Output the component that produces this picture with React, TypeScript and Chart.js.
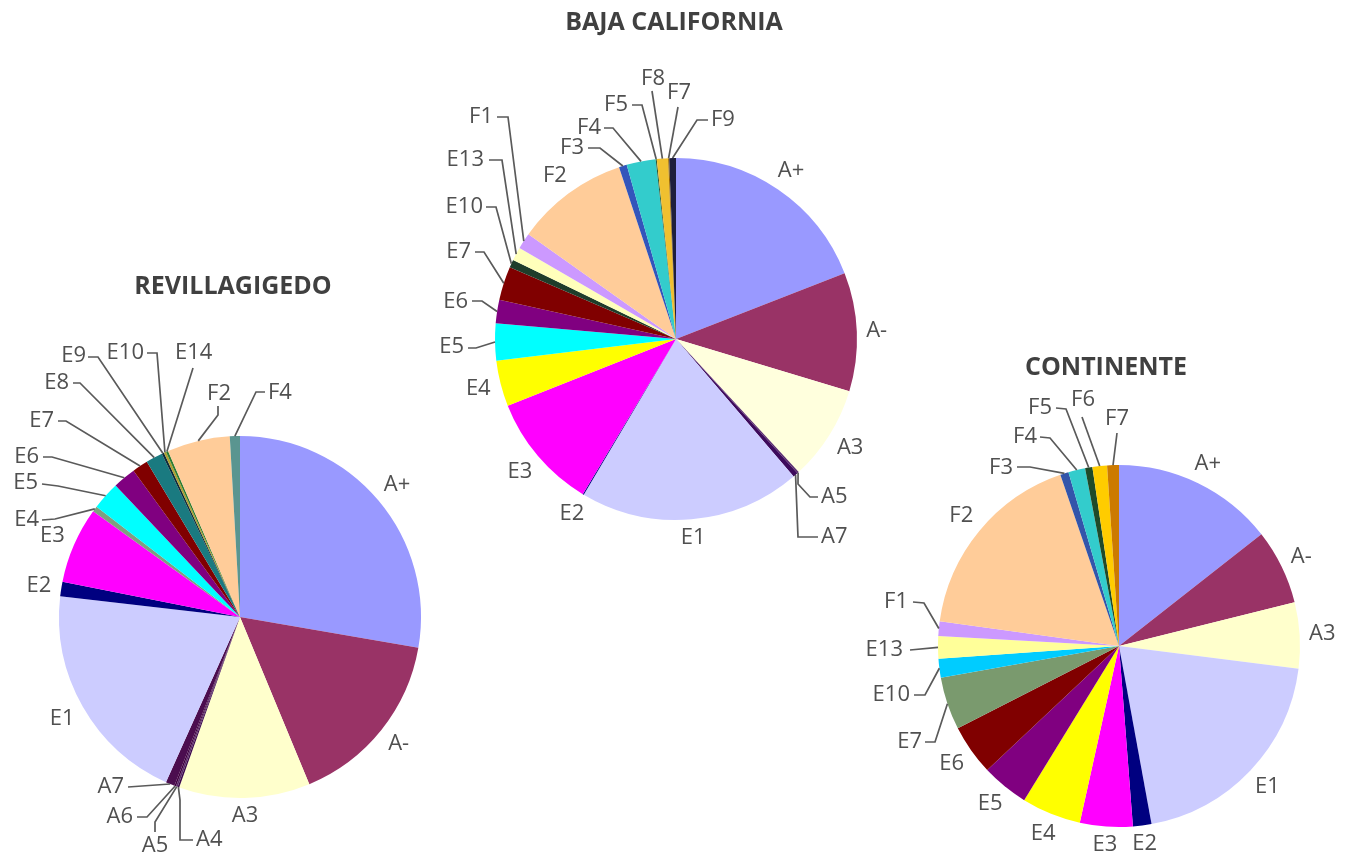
import React, { useEffect, useRef } from 'react';
import { Chart, registerables } from 'chart.js';

Chart.register(...registerables);

const W = 1351;
const H = 856;

// ---------- DATA ----------
const revCategories = ['A+', 'A-', 'A3', 'A4', 'A5', 'A6', 'A7', 'E1', 'E2', 'E3', 'E4', 'E5', 'E6', 'E7', 'E8', 'E9', 'E10', 'E14', 'F2', 'F4'];
const revValues = [27.7, 16.0, 11.7, 0.15, 0.15, 0.15, 0.8, 20.1, 1.3, 6.8, 0.5, 2.5, 2.05, 1.4, 1.5, 0.2, 0.2, 0.2, 5.6, 0.9];
const revColors = ['#9999FF', '#993366', '#FFFFCC', '#3D0A4A', '#5A2A6A', '#400040', '#4B0D4F', '#CCCCFF', '#000080', '#FF00FF', '#7F9F80', '#00FFFF', '#800080', '#800000', '#1A7A80', '#0D2A3A', '#B0A030', '#2E7D32', '#FFCC99', '#5A9590'];

const bajaCategories = ['A+', 'A-', 'A3', 'A5', 'A7', 'E1', 'E2', 'E3', 'E4', 'E5', 'E6', 'E7', 'E10', 'E13', 'F1', 'F2', 'F3', 'F4', 'F5', 'F8', 'F7', 'F9'];
const bajaValues = [19.1, 10.6, 8.5, 0.15, 0.45, 19.8, 0.1, 10.4, 4.1, 3.3, 2.1, 3.0, 0.7, 1.2, 1.45, 10.1, 0.7, 2.6, 0.1, 1.0, 0.1, 0.6];
const bajaColors = ['#9999FF', '#993366', '#FFFFDD', '#5A2D6E', '#3D0A5C', '#CCCCFF', '#000080', '#FF00FF', '#FFFF00', '#00FFFF', '#800080', '#800000', '#1F3D2A', '#FFFFBB', '#CC99FF', '#FFCC99', '#3355BB', '#33CCCC', '#2A5D3A', '#F0C030', '#996600', '#1E1E3C'];

const contCategories = ['A+', 'A-', 'A3', 'E1', 'E2', 'E3', 'E4', 'E5', 'E6', 'E7', 'E10', 'E13', 'F1', 'F2', 'F3', 'F4', 'F5', 'F6', 'F7'];
const contValues = [14.4, 6.7, 5.9, 20.1, 1.65, 4.7, 5.3, 4.2, 4.5, 4.7, 1.7, 2.0, 1.3, 17.55, 0.75, 1.5, 0.65, 1.3, 1.05];
const contColors = ['#9999FF', '#993366', '#FFFFCC', '#CCCCFF', '#000080', '#FF00FF', '#FFFF00', '#800080', '#800000', '#7A9A6E', '#00CCFF', '#FFFF99', '#CC99FF', '#FFCC99', '#3355AA', '#33CCCC', '#1F4A2A', '#FFCC00', '#CC7A00'];

const titles = ['REVILLAGIGEDO', 'BAJA CALIFORNIA', 'CONTINENTE'];

// ---------- LAYOUT / STYLE ----------
const RADIUS = 181;
const LABEL_FONT = "22px 'Open Sans', 'DejaVu Sans', sans-serif";
const LABEL_COLOR = '#505050';
const LINE_COLOR = '#5a5a5a';
const LABEL_GAP = 9;
const LABEL_H = 16;

type Leader = { x: number; y: number; align: CanvasTextAlign; pts: number[][] };

const revLeaders: Record<string, Leader> = {
  A4: { x: 196, y: 840, align: 'left', pts: [[193, 840], [180, 840], [180, 800]] },
  A5: { x: 155, y: 846, align: 'center', pts: [[155, 832], [155, 822]] },
  A6: { x: 133, y: 817, align: 'right', pts: [[137, 817], [147, 817]] },
  A7: { x: 124, y: 787, align: 'right', pts: [[128, 787]] },
  E4: { x: 39, y: 520, align: 'right', pts: [[42, 520], [55, 519]] },
  E5: { x: 38, y: 483, align: 'right', pts: [[42, 484], [58, 486]] },
  E6: { x: 39, y: 457, align: 'right', pts: [[43, 457], [52, 457]] },
  E7: { x: 54, y: 421, align: 'right', pts: [[58, 421], [66, 421]] },
  E8: { x: 69, y: 383, align: 'right', pts: [[73, 383], [80, 383]] },
  E9: { x: 86, y: 356, align: 'right', pts: [[88, 357], [98, 357]] },
  E10: { x: 144, y: 353, align: 'right', pts: [[147, 353], [157, 353]] },
  E14: { x: 175, y: 353, align: 'left', pts: [[193, 368]] },
  F2: { x: 219, y: 394, align: 'center', pts: [[218, 406], [218, 415]] },
  F4: { x: 268, y: 393, align: 'left', pts: [[265, 392], [256, 392]] },
};

const bajaLeaders: Record<string, Leader> = {
  A5: { x: 821, y: 497, align: 'left', pts: [[818, 497], [810, 497], [798, 484]] },
  A7: { x: 821, y: 537, align: 'left', pts: [[818, 537], [798, 537]] },
  E5: { x: 464, y: 347, align: 'right', pts: [[468, 348], [476, 348]] },
  E6: { x: 468, y: 302, align: 'right', pts: [[472, 301], [482, 301]] },
  E7: { x: 471, y: 252, align: 'right', pts: [[475, 252], [484, 252]] },
  E10: { x: 483, y: 207, align: 'right', pts: [[486, 207], [496, 207]] },
  E13: { x: 484, y: 160, align: 'right', pts: [[489, 160], [502, 160]] },
  F1: { x: 493, y: 117, align: 'right', pts: [[497, 117], [508, 117]] },
  F3: { x: 584, y: 148, align: 'right', pts: [[588, 148], [600, 148]] },
  F4: { x: 601, y: 128, align: 'right', pts: [[604, 128], [613, 128]] },
  F5: { x: 628, y: 105, align: 'right', pts: [[632, 105], [642, 105]] },
  F8: { x: 653, y: 79, align: 'center', pts: [[652, 91]] },
  F7: { x: 679, y: 93, align: 'center', pts: [[678, 107]] },
  F9: { x: 711, y: 120, align: 'left', pts: [[708, 120], [697, 120]] },
};

const contLeaders: Record<string, Leader> = {
  E7: { x: 922, y: 742, align: 'right', pts: [[925, 742], [935, 742]] },
  E10: { x: 910, y: 695, align: 'right', pts: [[914, 695], [925, 695]] },
  E13: { x: 903, y: 650, align: 'right', pts: [[910, 650]] },
  F1: { x: 908, y: 602, align: 'right', pts: [[913, 602], [924, 603]] },
  F3: { x: 1013, y: 468, align: 'right', pts: [[1017, 467], [1030, 467]] },
  F4: { x: 1037, y: 437, align: 'right', pts: [[1040, 437], [1050, 438]] },
  F5: { x: 1052, y: 408, align: 'right', pts: [[1056, 408], [1066, 409]] },
  F6: { x: 1083, y: 400, align: 'center', pts: [[1082, 417]] },
  F7: { x: 1117, y: 419, align: 'center', pts: [[1117, 433]] },
};

type PieSpec = {
  labels: string[];
  values: number[];
  colors: string[];
  cx: number;
  cy: number;
  leaders: Record<string, Leader>;
};

const pies: PieSpec[] = [
  { labels: revCategories, values: revValues, colors: revColors, cx: 240, cy: 617, leaders: revLeaders },
  { labels: bajaCategories, values: bajaValues, colors: bajaColors, cx: 676, cy: 339, leaders: bajaLeaders },
  { labels: contCategories, values: contValues, colors: contColors, cx: 1119, cy: 646, leaders: contLeaders },
];

const titlePos = [
  { x: 233, y: 272 },
  { x: 674, y: 8 },
  { x: 1106, y: 353 },
];

function makeLabelPlugin(leaders: Record<string, Leader>) {
  return {
    id: 'sliceLabels',
    afterDatasetsDraw(chart: any) {
      const ctx: CanvasRenderingContext2D = chart.ctx;
      const meta = chart.getDatasetMeta(0);
      const labels = chart.data.labels as string[];
      ctx.save();
      ctx.font = LABEL_FONT;
      ctx.fillStyle = LABEL_COLOR;
      ctx.textBaseline = 'middle';
      meta.data.forEach((arc: any, i: number) => {
        const p = arc.getProps(['x', 'y', 'startAngle', 'endAngle', 'outerRadius'], true);
        const mid = (p.startAngle + p.endAngle) / 2;
        const name = labels[i];
        const lead = leaders[name];
        if (lead) {
          const ex = p.x + Math.cos(mid) * p.outerRadius;
          const ey = p.y + Math.sin(mid) * p.outerRadius;
          ctx.beginPath();
          ctx.strokeStyle = LINE_COLOR;
          ctx.lineWidth = 1.7;
          lead.pts.forEach((q, k) => (k === 0 ? ctx.moveTo(q[0], q[1]) : ctx.lineTo(q[0], q[1])));
          ctx.lineTo(ex, ey);
          ctx.stroke();
          ctx.textAlign = lead.align;
          ctx.fillText(name, lead.x, lead.y);
        } else {
          const tw = ctx.measureText(name).width;
          const rr =
            p.outerRadius + LABEL_GAP + (Math.abs(Math.cos(mid)) * tw) / 2 + (Math.abs(Math.sin(mid)) * LABEL_H) / 2;
          ctx.textAlign = 'center';
          ctx.fillText(name, p.x + Math.cos(mid) * rr, p.y + Math.sin(mid) * rr);
        }
      });
      ctx.restore();
    },
  };
}

function PieCanvas({ spec }: { spec: PieSpec }) {
  const ref = useRef<HTMLCanvasElement | null>(null);
  useEffect(() => {
    if (!ref.current) return;
    const chart = new Chart(ref.current, {
      type: 'pie',
      data: {
        labels: spec.labels,
        datasets: [
          {
            data: spec.values,
            backgroundColor: spec.colors,
            borderWidth: 0,
          },
        ],
      },
      options: {
        responsive: false,
        animation: false,
        events: [],
        layout: {
          padding: {
            left: spec.cx - RADIUS,
            top: spec.cy - RADIUS,
            right: W - spec.cx - RADIUS,
            bottom: H - spec.cy - RADIUS,
          },
        },
        plugins: {
          legend: { display: false },
          tooltip: { enabled: false },
          title: { display: false },
        },
      },
      plugins: [makeLabelPlugin(spec.leaders)],
    } as any);
    return () => chart.destroy();
  }, [spec]);
  return (
    <canvas
      ref={ref}
      width={W}
      height={H}
      style={{ position: 'absolute', left: 0, top: 0, width: W, height: H }}
    />
  );
}

export default function App() {
  return (
    <div style={{ position: 'absolute', left: 0, top: 0, width: W, height: H, background: '#ffffff', overflow: 'hidden' }}>
      {pies.map((p, i) => (
        <PieCanvas key={i} spec={p} />
      ))}
      {titles.map((t, i) => (
        <div
          key={t}
          style={{
            position: 'absolute',
            left: titlePos[i].x,
            top: titlePos[i].y,
            transform: 'translateX(-50%)',
            font: "bold 25px 'Open Sans', 'DejaVu Sans', sans-serif",
            lineHeight: '25px',
            color: '#404040',
            whiteSpace: 'nowrap',
          }}
        >
          {t}
        </div>
      ))}
    </div>
  );
}
